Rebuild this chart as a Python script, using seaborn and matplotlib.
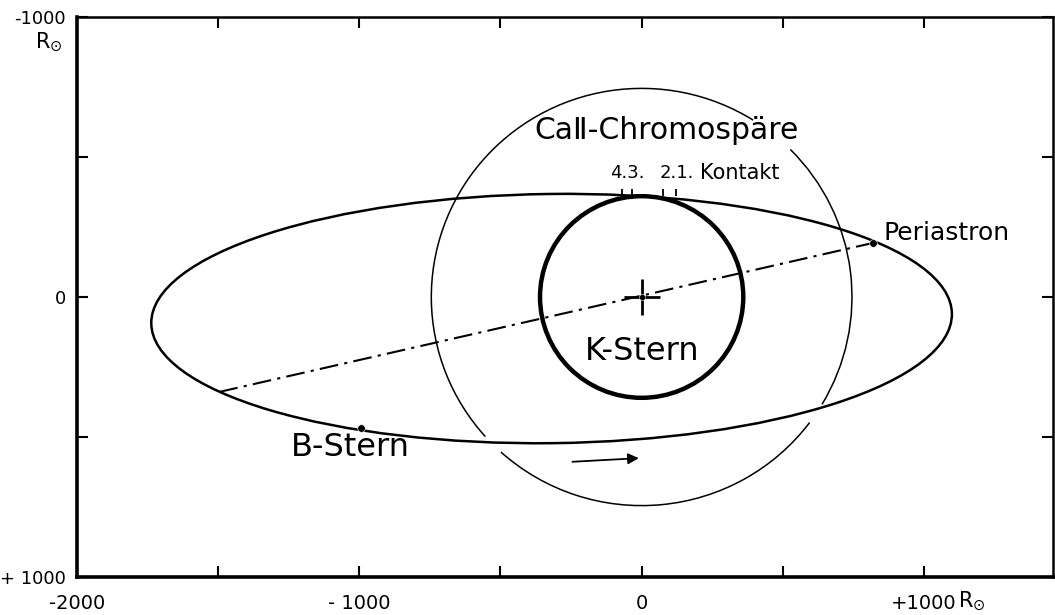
import pandas as pd
import matplotlib.pyplot as plt
from matplotlib.patches import Circle, Ellipse, Arc
import seaborn as sns

# axis ticks (R_sun)
x_ticks = [-2000, -1500, -1000, -500, 0, 500, 1000]
x_tick_labels = ['-2000', '', '- 1000', '', '0', '', '+1000']
y_ticks = [-1000, -500, 0, 500, 1000]
y_tick_labels = ['-1000', '', '0', '', '+ 1000']

# K star and Ca II chromosphere, both centred on the K star
k_star_x = [0]
k_star_y = [0]
k_star_radius = 360
ca_radius = 745
ca_pieces = [(37, 132), (138, 302), (315, 391)]  # circle is broken at the crossings

# apparent orbit of the B star
orbit_center = (-319, 77)
orbit_width = 2836
orbit_height = 890
orbit_tilt = -0.7

# line of apsides
apsis_x = [-1496, 819]
apsis_y = [339, -193]

# marked points on the orbit
points = pd.DataFrame({
    'name': ['Periastron', 'B-Stern'],
    'x': [819, -993],
    'y': [-193, 468],
})

# contact marks on top of the K star
contact_x = [-71, -35, 74, 121]
contact_y0 = -384
contact_y1 = -360

sns.set_style('white')
plt.rcParams['font.family'] = ['DejaVu Sans']
plt.rcParams['text.color'] = 'black'
plt.rcParams['xtick.color'] = 'black'
plt.rcParams['ytick.color'] = 'black'
plt.rcParams['axes.edgecolor'] = 'black'

fig = plt.figure(figsize=(10.55, 6.15), dpi=100)
ax = fig.add_axes([77 / 1055, 1 - 577 / 615, 976 / 1055, 560 / 615])

# orbit and circles
ax.add_patch(Ellipse(orbit_center, orbit_width, orbit_height, angle=orbit_tilt,
                     fill=False, color='black', lw=1.8))
ax.add_patch(Circle((k_star_x[0], k_star_y[0]), k_star_radius,
                    fill=False, color='black', lw=3.2))
for t1, t2 in ca_pieces:
    ax.add_patch(Arc((k_star_x[0], k_star_y[0]), 2 * ca_radius, 2 * ca_radius,
                     theta1=t1, theta2=t2, color='black', lw=1.1))

# line of apsides
sns.lineplot(x=apsis_x, y=apsis_y, ax=ax, color='black', lw=1.5,
             linestyle=(0, (9, 3, 1.5, 3)), sort=False)

# points
sns.scatterplot(data=points, x='x', y='y', ax=ax, color='black', s=30, zorder=5)
sns.scatterplot(x=k_star_x, y=k_star_y, ax=ax, marker='+', s=650,
                color='black', linewidth=2, zorder=5)
sns.scatterplot(x=k_star_x, y=k_star_y, ax=ax, color='black', s=20, zorder=5)

# contact ticks
ax.vlines(contact_x, contact_y0, contact_y1, color='black', lw=1.3)

# motion arrow
ax.annotate('', xy=(0, 575), xytext=(-255, 589),
            arrowprops=dict(arrowstyle='-|>', color='black', lw=1.3, mutation_scale=16))

# labels
ax.text(-379, -596, 'Ca\u2161-Chromospäre', fontsize=21.5, ha='left', va='center')
ax.text(-113, -443, '4.3.', fontsize=13, ha='left', va='center')
ax.text(64, -443, '2.1.', fontsize=13, ha='left', va='center')
ax.text(206, -443, 'Kontakt', fontsize=15, ha='left', va='center')
ax.text(855, -229, 'Periastron', fontsize=18, ha='left', va='center')
ax.text(-202, 196, 'K-Stern', fontsize=23, ha='left', va='center')
ax.text(-1241, 536, 'B-Stern', fontsize=23, ha='left', va='center')

ax.set_xlim(-2000, 1457)
ax.set_ylim(1000, -1000)
ax.set_xticks(x_ticks)
ax.set_xticklabels(x_tick_labels, fontsize=14)
ax.set_yticks(y_ticks)
ax.set_yticklabels(y_tick_labels, fontsize=13)
ax.tick_params(axis='both', direction='in', length=8, width=1.5, colors='black',
               top=True, right=True, bottom=True, left=True)
ax.tick_params(axis='x', pad=12)
ax.tick_params(axis='y', pad=8)
ax.set_xlabel('')
ax.set_ylabel('')
for side, w in [('left', 2.6), ('bottom', 2.6), ('top', 1.8), ('right', 1.8)]:
    ax.spines[side].set_visible(True)
    ax.spines[side].set_linewidth(w)
    ax.spines[side].set_color('black')

fig.text(49 / 1055, 1 - 42 / 615, r'R$_{\odot}$', fontsize=15, ha='center', va='center')
fig.text(958 / 1055, 1 - 601 / 615, r'R$_{\odot}$', fontsize=15, ha='left', va='center')

fig.savefig('out.png', dpi=100)
